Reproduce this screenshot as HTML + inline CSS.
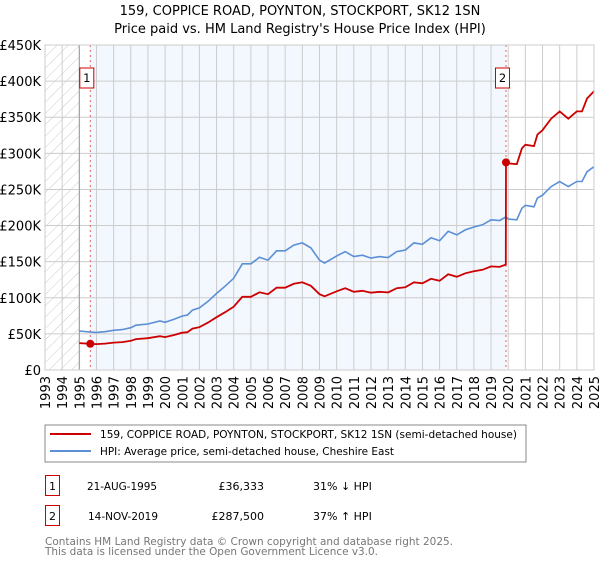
<!DOCTYPE html>
<html><head><meta charset="utf-8">
<style>
body{margin:0;background:#fff;font-family:"Liberation Sans","DejaVu Sans",sans-serif;}
svg text{font-family:"DejaVu Sans","Liberation Sans",sans-serif;}
</style></head>
<body>
<svg id="chart" width="600" height="560" viewBox="0 0 600 560">
<defs>
<pattern id="hatch" width="8" height="8" patternUnits="userSpaceOnUse" patternTransform="rotate(45)">
<line x1="0" y1="0" x2="0" y2="8" stroke="#ccc" stroke-width="1"/>
</pattern>
</defs>
<text x="300" y="15" text-anchor="middle" font-size="13">159, COPPICE ROAD, POYNTON, STOCKPORT, SK12 1SN</text>
<text x="300" y="33" text-anchor="middle" font-size="13">Price paid vs. HM Land Registry's House Price Index (HPI)</text>
<g id="plot"></g>
<rect x="45" y="425" width="481" height="37" fill="#fff" stroke="#888"/>
<line x1="50" y1="434" x2="91" y2="434" stroke="#cc0000" stroke-width="2"/>
<text x="100" y="438" font-size="11" textLength="417" lengthAdjust="spacingAndGlyphs">159, COPPICE ROAD, POYNTON, STOCKPORT, SK12 1SN (semi-detached house)</text>
<line x1="50" y1="451" x2="91" y2="451" stroke="#5b8fd6" stroke-width="2"/>
<text x="100" y="455" font-size="11" textLength="294" lengthAdjust="spacingAndGlyphs">HPI: Average price, semi-detached house, Cheshire East</text>
<g>
<rect x="45.5" y="475.5" width="14" height="20" fill="#fff" stroke="#cc0000"/>
<text x="52.5" y="490" text-anchor="middle" font-size="11">1</text>
<text x="87" y="490" font-size="11" textLength="70" lengthAdjust="spacingAndGlyphs">21-AUG-1995</text>
<text x="264" y="490" text-anchor="end" font-size="11">£36,333</text>
<text x="313" y="490" font-size="11">31% ↓ HPI</text>
</g>
<g>
<rect x="45.5" y="505.5" width="14" height="20" fill="#fff" stroke="#cc0000"/>
<text x="52.5" y="520" text-anchor="middle" font-size="11">2</text>
<text x="88" y="520" font-size="11" textLength="70" lengthAdjust="spacingAndGlyphs">14-NOV-2019</text>
<text x="264" y="520" text-anchor="end" font-size="11">£287,500</text>
<text x="313" y="520" font-size="11">37% ↑ HPI</text>
</g>
<text x="45" y="545" font-size="11" fill="#777" textLength="408" lengthAdjust="spacingAndGlyphs">Contains HM Land Registry data © Crown copyright and database right 2025.</text>
<text x="45" y="555" font-size="11" fill="#777" textLength="333" lengthAdjust="spacingAndGlyphs">This data is licensed under the Open Government Licence v3.0.</text>
</svg>
<script>
const yTicks=[0,50,100,150,200,250,300,350,400,450];
const yTickLabels=["£0","£50K","£100K","£150K","£200K","£250K","£300K","£350K","£400K","£450K"];
const xYears=[1993,1994,1995,1996,1997,1998,1999,2000,2001,2002,2003,2004,2005,2006,2007,2008,2009,2010,2011,2012,2013,2014,2015,2016,2017,2018,2019,2020,2021,2022,2023,2024,2025];
const hpiDates=[1995.0,1995.64,1996,1996.5,1997,1997.5,1998,1998.3,1999,1999.7,2000,2000.5,2001,2001.3,2001.6,2002,2002.5,2003,2003.5,2004,2004.5,2005,2005.5,2006,2006.5,2007,2007.5,2008,2008.5,2009,2009.3,2010,2010.5,2011,2011.5,2012,2012.5,2013,2013.5,2014,2014.5,2015,2015.5,2016,2016.5,2017,2017.5,2018,2018.5,2019,2019.5,2019.87,2020,2020.5,2020.8,2021,2021.5,2021.7,2022,2022.5,2023,2023.5,2024,2024.3,2024.6,2025];
const hpiValues=[54,52.5,52,53,55,56,58.6,62,63.7,67.8,66,70,74.8,76,83,86,95,106,116,127,147,147,156,152,165,165,173,176,169,152,148,158,164,157,159,155,157,155.6,164,166,176,174,183,179,192,187,194,198,201,208,207,212,209,208,224,228,226,238,242,254,261,254,261,261,274.6,281.5];
const priceDates=[1995.0,1995.64,1996,1996.5,1997,1997.5,1998,1998.3,1999,1999.7,2000,2000.5,2001,2001.3,2001.6,2002,2002.5,2003,2003.5,2004,2004.5,2005,2005.5,2006,2006.5,2007,2007.5,2008,2008.5,2009,2009.3,2010,2010.5,2011,2011.5,2012,2012.5,2013,2013.5,2014,2014.5,2015,2015.5,2016,2016.5,2017,2017.5,2018,2018.5,2019,2019.5,2019.86,2019.87,2020,2020.5,2020.8,2021,2021.5,2021.7,2022,2022.5,2023,2023.5,2024,2024.3,2024.6,2025];
const priceValues=[37.3,36.3,35.9,36.6,38,38.6,40.4,42.8,44,46.8,45.5,48.3,51.6,52.4,57.3,59.3,65.6,73.1,80,87.6,101.4,101.4,107.6,104.9,113.9,113.9,119.4,121.4,116.6,104.9,102.1,109,113.2,108.3,109.7,107,108.3,107.4,113.2,114.5,121.4,120,126.3,123.5,132.5,129,133.9,136.6,138.7,143.5,142.8,146,287.5,286,285,307,312,310,326,332,348,358,348,358,358,376,386];
const saleDates=[1995.64,2019.87];
const saleValues=[36.333,287.5];
const saleLabels=["1","2"];

const X0=45,X1=594,Y0=370,Y1=45;
const xs=y=>X0+(y-1993)/(2025-1993)*(X1-X0);
const ys=v=>Y0-v/450*(Y0-Y1);
const NS="http://www.w3.org/2000/svg";
const g=document.getElementById('plot');
function mk(t,a){const e=document.createElementNS(NS,t);for(const k in a)e.setAttribute(k,a[k]);g.appendChild(e);return e;}

let e=mk('rect',{x:xs(saleDates[0]),y:Y1,width:xs(saleDates[1])-xs(saleDates[0]),height:Y0-Y1,fill:'#f3f7fe'});


e=mk('rect',{x:X0,y:Y1,width:xs(1995)-X0,height:Y0-Y1,fill:'url(#hatch)'});



yTicks.forEach((v,i)=>{
  let l=mk('line',{x1:X0,x2:X1,y1:ys(v),y2:ys(v),stroke:'#cccccc','stroke-width':1});
  
  
  let t=mk('text',{x:41,y:ys(v)+5,'text-anchor':'end','font-size':13});
  t.textContent=yTickLabels[i];
  
  
});
xYears.forEach(yr=>{
  let l=mk('line',{x1:xs(yr),x2:xs(yr),y1:Y1,y2:Y0,stroke:'#cccccc','stroke-width':1});
  
  
  let t=mk('text',{x:0,y:0,'text-anchor':'end','font-size':13,transform:`translate(${xs(yr)+5},${Y0+6}) rotate(-90)`});
  t.textContent=yr;
  
  
});
e=mk('line',{x1:xs(1995),x2:xs(1995),y1:Y1,y2:Y0,stroke:'#999','stroke-width':1});



saleDates.forEach((d,i)=>{
  let l=mk('line',{x1:xs(d),x2:xs(d),y1:Y1,y2:Y0,stroke:'#e06060','stroke-width':1,'stroke-dasharray':'2,3'});
  
  
});

let p=hpiDates.map((d,i)=>(i?'L':'M')+xs(d).toFixed(1)+','+ys(hpiValues[i]).toFixed(1)).join('');
e=mk('path',{d:p,fill:'none',stroke:'#5b8fd6','stroke-width':1.6});


p=priceDates.map((d,i)=>(i?'L':'M')+xs(d).toFixed(1)+','+ys(priceValues[i]).toFixed(1)).join('');
e=mk('path',{d:p,fill:'none',stroke:'#cc0000','stroke-width':1.8});



saleDates.forEach((d,i)=>{
  let c=mk('circle',{cx:xs(d),cy:ys(saleValues[i]),r:4,fill:'#cc0000'});
  
  
  let bx=xs(d)-10.5;
  let r=mk('rect',{x:bx,y:68,width:14,height:20,fill:'#fff',stroke:'#cc0000'});
  
  
  let t=mk('text',{x:bx+7,y:82,'text-anchor':'middle','font-size':11.5});
  t.textContent=saleLabels[i];
  
  
});
e=mk('rect',{x:X0,y:Y1,width:X1-X0,height:Y0-Y1,fill:'none',stroke:'#cccccc'});


</script>
</body></html>
